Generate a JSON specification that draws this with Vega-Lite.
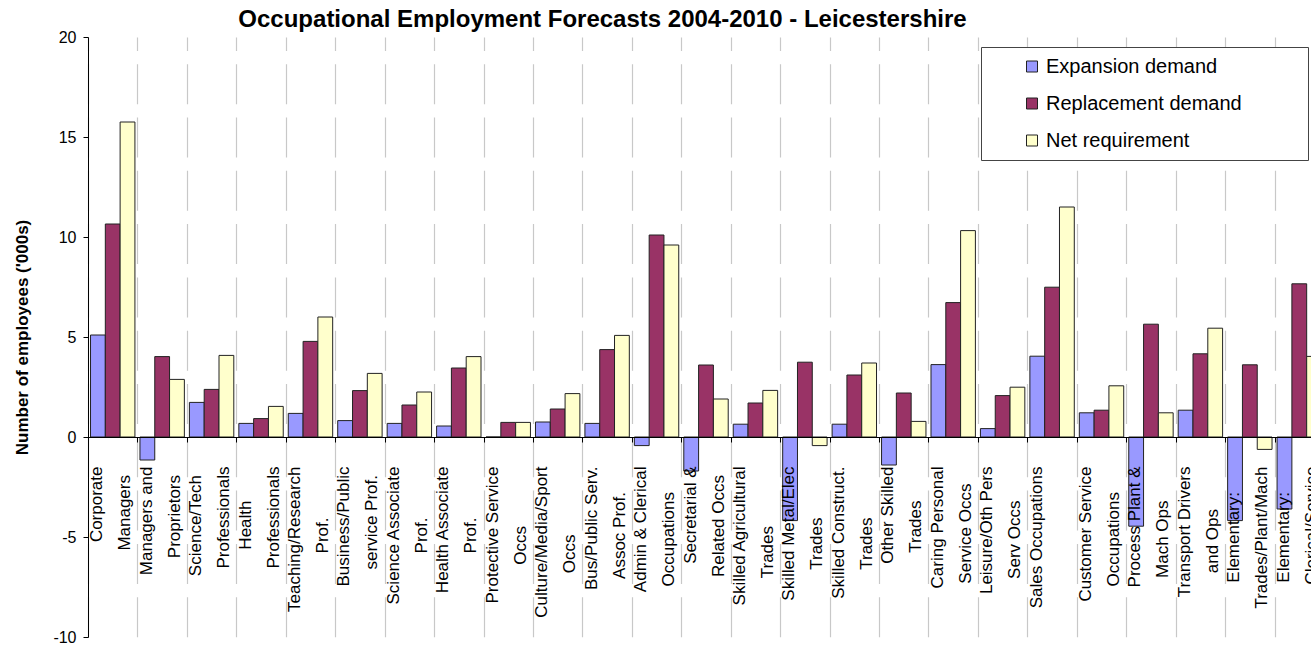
{
  "$schema": "https://vega.github.io/schema/vega-lite/v6.json",
  "autosize": {"type": "none"},
  "width": 1223,
  "height": 600,
  "padding": {"left": 88, "top": 37, "right": 0, "bottom": 9},
  "background": "#ffffff",
  "title": {
    "text": "Occupational Employment Forecasts 2004-2010 - Leicestershire",
    "anchor": "middle",
    "frame": "group",
    "dx": -97,
    "dy": 11,
    "offset": 8,
    "fontSize": 24,
    "font": "Liberation Sans",
    "fontWeight": "bold",
    "color": "#000000"
  },
  "config": {
    "view": {"stroke": null},
    "font": "Liberation Sans"
  },
  "data": {
    "values": [
      {"cat": "Corporate\nManagers", "series": "Expansion demand", "value": 5.1},
      {"cat": "Corporate\nManagers", "series": "Replacement demand", "value": 10.65},
      {"cat": "Corporate\nManagers", "series": "Net requirement", "value": 15.75},
      {"cat": "Managers and\nProprietors", "series": "Expansion demand", "value": -1.15},
      {"cat": "Managers and\nProprietors", "series": "Replacement demand", "value": 4.02},
      {"cat": "Managers and\nProprietors", "series": "Net requirement", "value": 2.88},
      {"cat": "Science/Tech\nProfessionals", "series": "Expansion demand", "value": 1.73},
      {"cat": "Science/Tech\nProfessionals", "series": "Replacement demand", "value": 2.38},
      {"cat": "Science/Tech\nProfessionals", "series": "Net requirement", "value": 4.08},
      {"cat": "Health\nProfessionals", "series": "Expansion demand", "value": 0.68},
      {"cat": "Health\nProfessionals", "series": "Replacement demand", "value": 0.92},
      {"cat": "Health\nProfessionals", "series": "Net requirement", "value": 1.53},
      {"cat": "Teaching/Research\nProf.", "series": "Expansion demand", "value": 1.18},
      {"cat": "Teaching/Research\nProf.", "series": "Replacement demand", "value": 4.78},
      {"cat": "Teaching/Research\nProf.", "series": "Net requirement", "value": 6.0},
      {"cat": "Business/Public\nservice Prof.", "series": "Expansion demand", "value": 0.82},
      {"cat": "Business/Public\nservice Prof.", "series": "Replacement demand", "value": 2.32},
      {"cat": "Business/Public\nservice Prof.", "series": "Net requirement", "value": 3.18},
      {"cat": "Science Associate\nProf.", "series": "Expansion demand", "value": 0.68},
      {"cat": "Science Associate\nProf.", "series": "Replacement demand", "value": 1.6},
      {"cat": "Science Associate\nProf.", "series": "Net requirement", "value": 2.25},
      {"cat": "Health Associate\nProf.", "series": "Expansion demand", "value": 0.55},
      {"cat": "Health Associate\nProf.", "series": "Replacement demand", "value": 3.45},
      {"cat": "Health Associate\nProf.", "series": "Net requirement", "value": 4.02},
      {"cat": "Protective Service\nOccs", "series": "Expansion demand", "value": 0.0},
      {"cat": "Protective Service\nOccs", "series": "Replacement demand", "value": 0.73},
      {"cat": "Protective Service\nOccs", "series": "Net requirement", "value": 0.73},
      {"cat": "Culture/Media/Sport\nOccs", "series": "Expansion demand", "value": 0.75},
      {"cat": "Culture/Media/Sport\nOccs", "series": "Replacement demand", "value": 1.4},
      {"cat": "Culture/Media/Sport\nOccs", "series": "Net requirement", "value": 2.17},
      {"cat": "Bus/Public Serv.\nAssoc Prof.", "series": "Expansion demand", "value": 0.68},
      {"cat": "Bus/Public Serv.\nAssoc Prof.", "series": "Replacement demand", "value": 4.37},
      {"cat": "Bus/Public Serv.\nAssoc Prof.", "series": "Net requirement", "value": 5.08},
      {"cat": "Admin & Clerical\nOccupations", "series": "Expansion demand", "value": -0.43},
      {"cat": "Admin & Clerical\nOccupations", "series": "Replacement demand", "value": 10.1},
      {"cat": "Admin & Clerical\nOccupations", "series": "Net requirement", "value": 9.6},
      {"cat": "Secretarial &\nRelated Occs", "series": "Expansion demand", "value": -1.7},
      {"cat": "Secretarial &\nRelated Occs", "series": "Replacement demand", "value": 3.6},
      {"cat": "Secretarial &\nRelated Occs", "series": "Net requirement", "value": 1.9},
      {"cat": "Skilled Agricultural\nTrades", "series": "Expansion demand", "value": 0.64},
      {"cat": "Skilled Agricultural\nTrades", "series": "Replacement demand", "value": 1.7},
      {"cat": "Skilled Agricultural\nTrades", "series": "Net requirement", "value": 2.33},
      {"cat": "Skilled Metal/Elec\nTrades", "series": "Expansion demand", "value": -4.18},
      {"cat": "Skilled Metal/Elec\nTrades", "series": "Replacement demand", "value": 3.74},
      {"cat": "Skilled Metal/Elec\nTrades", "series": "Net requirement", "value": -0.43},
      {"cat": "Skilled Construct.\nTrades", "series": "Expansion demand", "value": 0.64},
      {"cat": "Skilled Construct.\nTrades", "series": "Replacement demand", "value": 3.1},
      {"cat": "Skilled Construct.\nTrades", "series": "Net requirement", "value": 3.7},
      {"cat": "Other Skilled\nTrades", "series": "Expansion demand", "value": -1.4},
      {"cat": "Other Skilled\nTrades", "series": "Replacement demand", "value": 2.2},
      {"cat": "Other Skilled\nTrades", "series": "Net requirement", "value": 0.78},
      {"cat": "Caring Personal\nService Occs", "series": "Expansion demand", "value": 3.62},
      {"cat": "Caring Personal\nService Occs", "series": "Replacement demand", "value": 6.72},
      {"cat": "Caring Personal\nService Occs", "series": "Net requirement", "value": 10.32},
      {"cat": "Leisure/Oth Pers\nServ Occs", "series": "Expansion demand", "value": 0.42},
      {"cat": "Leisure/Oth Pers\nServ Occs", "series": "Replacement demand", "value": 2.07},
      {"cat": "Leisure/Oth Pers\nServ Occs", "series": "Net requirement", "value": 2.49},
      {"cat": "Sales Occupations", "series": "Expansion demand", "value": 4.04},
      {"cat": "Sales Occupations", "series": "Replacement demand", "value": 7.49},
      {"cat": "Sales Occupations", "series": "Net requirement", "value": 11.5},
      {"cat": "Customer Service\nOccupations", "series": "Expansion demand", "value": 1.21},
      {"cat": "Customer Service\nOccupations", "series": "Replacement demand", "value": 1.34},
      {"cat": "Customer Service\nOccupations", "series": "Net requirement", "value": 2.56},
      {"cat": "Process Plant &\nMach Ops", "series": "Expansion demand", "value": -4.46},
      {"cat": "Process Plant &\nMach Ops", "series": "Replacement demand", "value": 5.64},
      {"cat": "Process Plant &\nMach Ops", "series": "Net requirement", "value": 1.21},
      {"cat": "Transport Drivers\nand Ops", "series": "Expansion demand", "value": 1.34},
      {"cat": "Transport Drivers\nand Ops", "series": "Replacement demand", "value": 4.16},
      {"cat": "Transport Drivers\nand Ops", "series": "Net requirement", "value": 5.44},
      {"cat": "Elementary:\nTrades/Plant/Mach", "series": "Expansion demand", "value": -4.18},
      {"cat": "Elementary:\nTrades/Plant/Mach", "series": "Replacement demand", "value": 3.61},
      {"cat": "Elementary:\nTrades/Plant/Mach", "series": "Net requirement", "value": -0.62},
      {"cat": "Elementary:\nClerical/Service", "series": "Expansion demand", "value": -3.6},
      {"cat": "Elementary:\nClerical/Service", "series": "Replacement demand", "value": 7.66},
      {"cat": "Elementary:\nClerical/Service", "series": "Net requirement", "value": 4.03}
    ]
  },
  "layer": [
    {
      "mark": {"type": "bar", "stroke": "#222222", "strokeWidth": 1},
      "encoding": {
        "x": {
          "field": "cat",
          "type": "nominal",
          "sort": null,
          "scale": {"range": [0, 1236], "paddingInner": 0, "paddingOuter": 0},
          "axis": {
            "orient": "bottom",
            "title": null,
            "grid": true,
            "tickBand": "extent",
            "gridColor": "#c8c8c8",
            "gridWidth": 1.2,
            "gridDash": [40, 13.3],
            "gridDashOffset": 26.6,
            "labels": false,
            "ticks": false,
            "domain": false,
            "zindex": 0
          }
        },
        "xOffset": {
          "field": "series",
          "type": "nominal",
          "sort": ["Expansion demand", "Replacement demand", "Net requirement"],
          "scale": {"paddingOuter": 0.17, "paddingInner": 0}
        },
        "y": {
          "field": "value",
          "type": "quantitative",
          "scale": {"domain": [-10, 20], "nice": false, "zero": false},
          "axis": {
            "values": [-10, -5, 0, 5, 10, 15, 20],
            "labelExpr": "datum.value + ''",
            "grid": false,
            "domainColor": "#000000",
            "tickColor": "#000000",
            "tickSize": 5,
            "labelFontSize": 16,
            "labelFont": "Liberation Sans",
            "labelColor": "#000000",
            "labelPadding": 7,
            "title": "Number of employees ('000s)",
            "titleFont": "Liberation Sans",
            "titleFontSize": 17,
            "titleFontWeight": "bold",
            "titleColor": "#000000",
            "titleX": -66,
            "titleY": 300,
            "titleAngle": -90,
            "titleAlign": "center",
            "titleBaseline": "middle"
          }
        },
        "color": {
          "field": "series",
          "type": "nominal",
          "scale": {
            "domain": ["Expansion demand", "Replacement demand", "Net requirement"],
            "range": ["#9999ff", "#993366", "#ffffcc"]
          },
          "legend": {
            "orient": "none",
            "legendX": 893,
            "legendY": 10,
            "title": null,
            "padding": 1,
            "clipHeight": 37,
            "rowPadding": 0,
            "symbolType": "square",
            "symbolSize": 121,
            "symbolStrokeColor": "#222222",
            "symbolStrokeWidth": 1,
            "symbolOffset": 40,
            "labelOffset": 4,
            "labelFontSize": 20,
            "labelFont": "Liberation Sans",
            "labelColor": "#000000",
            "labelLimit": 500,
            "labelExpr": "datum.label + '\u2003\u2003\u2003\u2005\u200b'",
            "strokeColor": "#444444",
            "fillColor": "#ffffff"
          }
        }
      }
    },
    {
      "mark": {"type": "rule", "opacity": 0},
      "encoding": {
        "x": {
          "field": "cat",
          "type": "nominal",
          "sort": null,
          "axis": {
            "orient": "bottom",
            "title": null,
            "grid": false,
            "tickBand": "extent",
            "offset": -200,
            "domain": true,
            "domainColor": "#000000",
            "domainWidth": 1,
            "ticks": true,
            "tickColor": "#000000",
            "tickSize": 5,
            "labelAngle": -90,
            "labelAlign": "right",
            "labelBaseline": "middle",
            "labelPadding": 24,
            "labelOffset": -16,
            "labelFont": "Liberation Sans",
            "labelFontSize": 17,
            "labelColor": "#000000",
            "labelLineHeight": 28,
            "labelLimit": 500,
            "labelOverlap": false,
            "labelBound": false,
            "labelFlush": false,
            "labelExpr": "length(split(datum.label, '\\n')) > 1 ? [pad(split(datum.label, '\\n')[0], max(length(split(datum.label, '\\n')[0]), length(split(datum.label, '\\n')[1])), '\u2002', 'center') + '\u200b', pad(split(datum.label, '\\n')[1], max(length(split(datum.label, '\\n')[0]), length(split(datum.label, '\\n')[1])), '\u2002', 'center') + '\u200b'] : datum.label",
            "zindex": 1
          }
        }
      }
    }
  ],
  "resolve": {"axis": {"x": "independent"}}
}
